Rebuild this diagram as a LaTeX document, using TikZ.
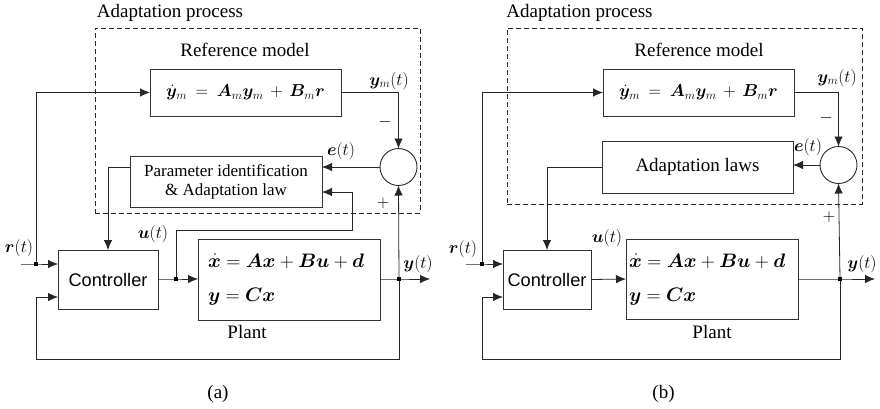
\documentclass[tikz,border=0pt]{standalone}
\usepackage{amsmath}
\usepackage{bm}
\usepackage{graphicx}
\usepackage{fontspec}
\setmainfont{Liberation Serif}
\newfontfamily\sansA{Liberation Sans}
\usetikzlibrary{arrows.meta,calc}
\newcommand{\bigeq}[1]{\scalebox{1.13}{#1}}
\begin{document}
\begin{tikzpicture}[x=1pt,y=-1pt,
  every node/.style={inner sep=0pt,outer sep=0pt},
  ln/.style={line width=0.8pt,draw=black!85},
  arr/.style={ln,-{Latex[length=10pt,width=8.5pt]}},
  blk/.style={draw=black!80,line width=0.9pt,rectangle},
  dbox/.style={draw=black!85,line width=0.8pt,dash pattern=on 5pt off 3pt,rectangle},
  sumc/.style={draw=black!85,line width=0.9pt,circle,minimum size=37pt},
  jdot/.style={fill=black,rectangle,minimum size=4pt},
  serif/.style={font=\fontsize{19}{22}\selectfont},
  serifs/.style={font=\fontsize{17}{19}\selectfont},
  sans/.style={font=\sansA\fontsize{18.2}{22}\selectfont},
  mth/.style={font=\fontsize{17.28}{21}\selectfont},
]
\useasboundingbox (0,0) rectangle (880,408);

% ================= Panel (a) =================
\node[serif] (apA) at (170,13) {Adaptation process};
\node[dbox,minimum width=325pt,minimum height=185pt] (dashA) at (257.5,120.5) {};
\node[serif] (rmA) at (245,50) {Reference model};
\node[blk,minimum width=191pt,minimum height=47pt,mth] (refA) at (245.5,92.5)
  {$\dot{\bm y}_m \:=\: \bm A_m\bm y_m \,+\, \bm B_m\bm r$};
\node[blk,minimum width=192pt,minimum height=51pt,serifs,align=center] (parA) at (226,181.5)
  {Parameter identification\\\& Adaptation law};
\node[sumc] (sumA) at (398.5,167) {};
\node[blk,minimum width=100pt,minimum height=59pt,sans] (ctrlA) at (108,279.5) {Controller};
\node[blk,minimum width=182pt,minimum height=81pt] (plantA) at (289,279.5) {};
\node[mth,anchor=base west] (eq1A) at (208,267) {\bigeq{$\dot{\bm x} = \bm A\bm x + \bm B\bm u + \bm d$}};
\node[mth,anchor=base west] (eq2A) at (208,301) {\bigeq{$\bm y = \bm C\bm x$}};
\node[serif] (plA) at (247,332) {Plant};

\coordinate (rinA) at (21,264);
\coordinate (rjA) at (36,264);
\coordinate (ujA) at (176,279);
\coordinate (yjA) at (399,279);
\coordinate (youtA) at (430,279);
\coordinate (botA) at (36,359);
\coordinate (fbA) at (36,297);
\coordinate (ubA) at (352,230);

\draw[arr] (rinA) -- (rjA) -- (ctrlA.west |- rjA);
\draw[arr] (rjA) |- (refA.west);
\draw[arr] (refA.east) -| (sumA.north);
\draw[arr] (sumA.west) -- (parA.east |- sumA);
\draw[arr] (parA.west |- sumA) -| (ctrlA.north);
\draw[arr] (ctrlA.east |- ujA) -- (ujA) -- (plantA.west |- ujA);
\draw[arr] (ujA) |- (ubA) |- ([yshift=-10.5pt]parA.east);
\draw[arr] (plantA.east |- yjA) -- (yjA) -- (youtA);
\draw[arr] (yjA) -- (sumA.south);
\draw[arr] (yjA) |- (botA) -- (fbA) -- (ctrlA.west |- fbA);
\node[jdot] (d1A) at (rjA) {};
\node[jdot] (d2A) at (ujA) {};
\node[jdot] (d3A) at (yjA) {};

\node[mth] (lrA) at (19,248) {$\bm r(t)$};
\node[mth] (luA) at (153,234) {$\bm u(t)$};
\node[mth] (lyA) at (418,264) {$\bm y(t)$};
\node[mth] (lymA) at (389,81) {$\bm y_m(t)$};
\node[mth] (leA) at (341,151) {$\bm e(t)$};
\node[mth] (lmA) at (385,122) {$-$};
\node[mth] (lpA) at (383,203) {$+$};
\node[serif] (capA) at (218,394) {(a)};

% ================= Panel (b) =================
\node[serif] (apB) at (579.5,13) {Adaptation process};
\node[dbox,minimum width=355pt,minimum height=176pt] (dashB) at (684.5,116) {};
\node[serif] (rmB) at (699,50) {Reference model};
\node[blk,minimum width=191pt,minimum height=47pt,mth] (refB) at (698.5,92.5)
  {$\dot{\bm y}_m \:=\: \bm A_m\bm y_m \,+\, \bm B_m\bm r$};
\node[blk,minimum width=191pt,minimum height=52pt,serif] (lawB) at (697.5,167) {Adaptation laws};
\node[sumc] (sumB) at (838.5,165) {};
\node[blk,minimum width=88pt,minimum height=59pt,sans] (ctrlB) at (547,279.5) {Controller};
\node[blk,minimum width=172pt,minimum height=80pt] (plantB) at (712,279) {};
\node[mth,anchor=base west] (eq1B) at (629,267) {\bigeq{$\dot{\bm x} = \bm A\bm x + \bm B\bm u + \bm d$}};
\node[mth,anchor=base west] (eq2B) at (629,301) {\bigeq{$\bm y = \bm C\bm x$}};
\node[serif] (plB) at (712,332) {Plant};

\coordinate (rinB) at (466,264);
\coordinate (rjB) at (482,264);
\coordinate (yjB) at (840,279);
\coordinate (youtB) at (875,279);
\coordinate (botB) at (482,359);
\coordinate (fbB) at (482,297);

\draw[arr] (rinB) -- (rjB) -- (ctrlB.west |- rjB);
\draw[arr] (rjB) |- (refB.west);
\draw[arr] (refB.east) -| (sumB.north);
\draw[arr] (sumB.west) -- (lawB.east |- sumB);
\draw[arr] (lawB.west) -| (ctrlB.north);
\draw[arr] (ctrlB.east) -- (plantB.west);
\draw[arr] (plantB.east |- yjB) -- (yjB) -- (youtB);
\draw[arr] (yjB) -- (sumB.south);
\draw[arr] (yjB) |- (botB) -- (fbB) -- (ctrlB.west |- fbB);
\node[jdot] (d1B) at (rjB) {};
\node[jdot] (d3B) at (yjB) {};

\node[mth] (lrB) at (463,249) {$\bm r(t)$};
\node[mth] (luB) at (607,238) {$\bm u(t)$};
\node[mth] (lyB) at (862,264) {$\bm y(t)$};
\node[mth] (lymB) at (837,78) {$\bm y_m(t)$};
\node[mth] (leB) at (808,147) {$\bm e(t)$};
\node[mth] (lmB) at (826,118) {$-$};
\node[mth] (lpB) at (829,217) {$+$};
\node[serif] (capB) at (663.5,394) {(b)};
\end{tikzpicture}
\end{document}
